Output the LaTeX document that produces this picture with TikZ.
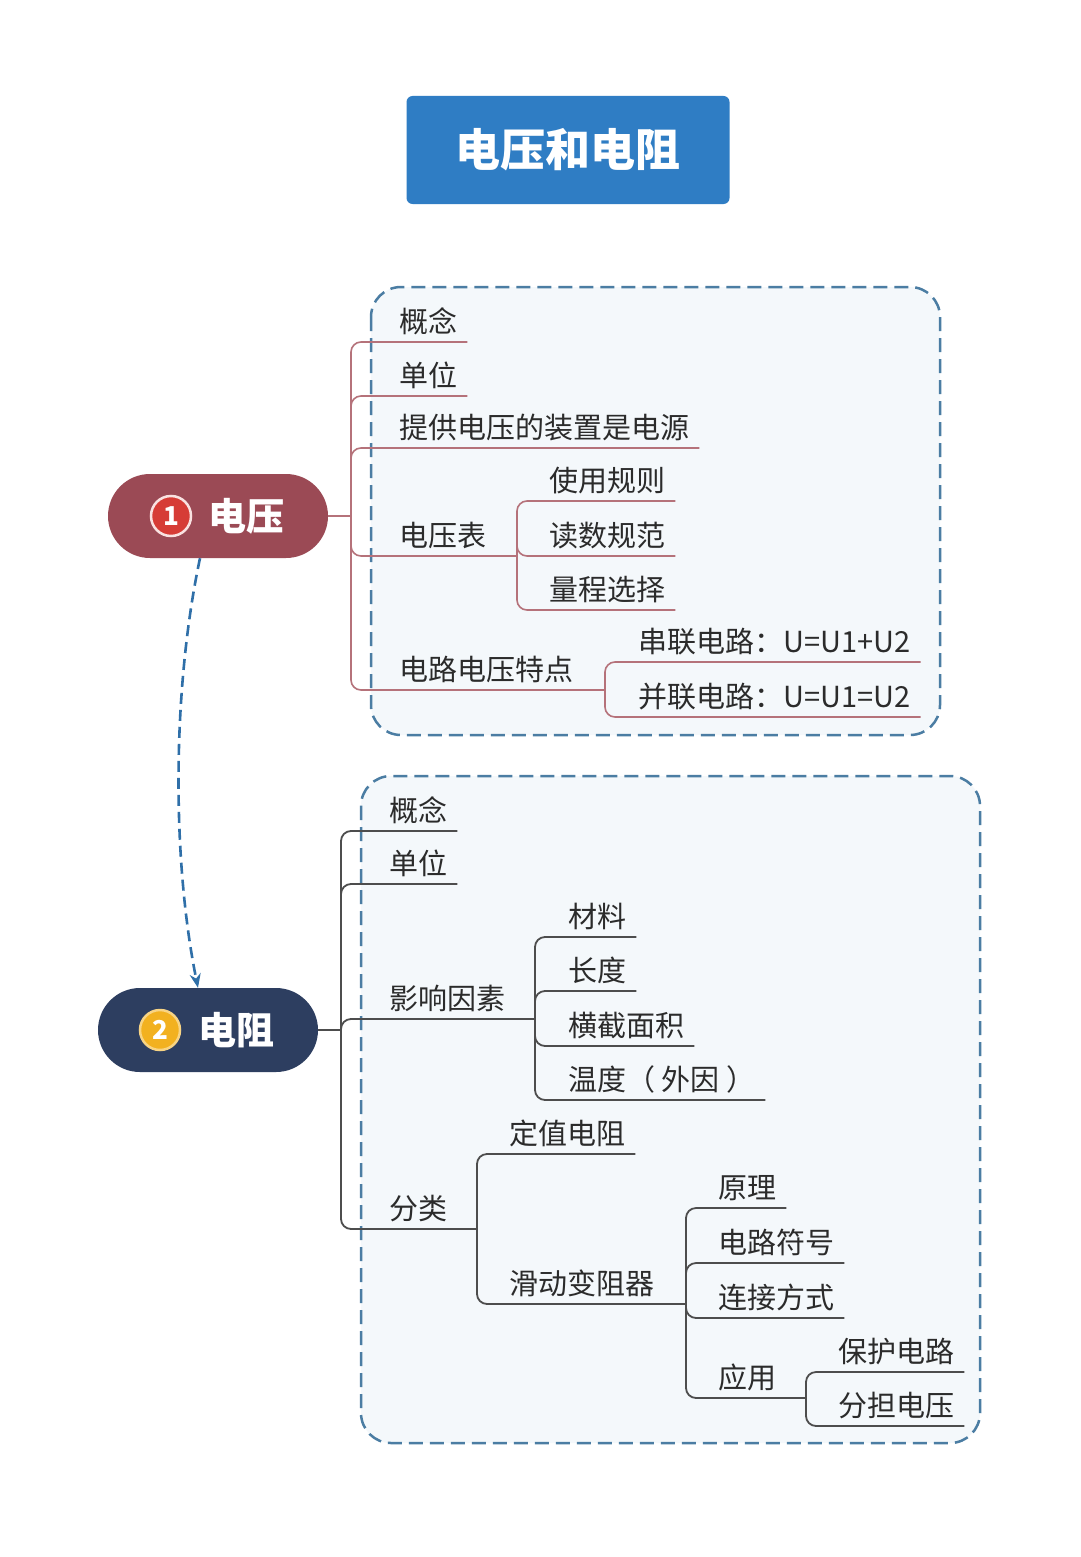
\documentclass[tikz,border=0pt]{standalone}
\usepackage{fontspec}
\setmainfont{Noto Sans CJK SC}
\usepackage{xcolor}
\usetikzlibrary{arrows.meta,positioning,calc}
\definecolor{titleblue}{HTML}{2F7DC4}
\definecolor{voltred}{HTML}{9B4A55}
\definecolor{resnavy}{HTML}{2D3E60}
\definecolor{badgered}{HTML}{D63C36}
\definecolor{badgegold}{HTML}{F2B120}
\definecolor{boxline}{HTML}{4B7DA3}
\definecolor{boxfill}{HTML}{F4F8FB}
\definecolor{flowblue}{HTML}{2F6FA8}
\definecolor{branchred}{HTML}{B5727A}
\definecolor{branchgray}{HTML}{4D4D4D}
\definecolor{txtgray}{HTML}{2B2B2B}
\begin{document}
\begin{tikzpicture}[x=1pt,y=-1pt,>=Stealth,
 leaf/.style={anchor=south west,inner xsep=10pt,inner ysep=2pt,text height=24pt,text depth=7.5pt,font=\fontsize{29}{32}\selectfont,text=txtgray},
 pill/.style={rounded corners=42pt,minimum width=220pt,minimum height=84pt,inner sep=0pt},
 badge/.style={circle,minimum size=40pt,inner sep=0pt,line width=2.5pt,text=white,font=\bfseries\fontsize{26}{26}\selectfont},
 pilltext/.style={text=white,font=\bfseries\fontsize{38}{40}\selectfont,inner sep=0pt},
 groupbox/.style={draw=boxline,fill=boxfill,line width=2.5pt,dash pattern=on 14pt off 7pt,rounded corners=30pt},
 vbranch/.style={draw=branchred,line width=1.6pt,rounded corners=10pt},
 rbranch/.style={draw=branchgray,line width=1.8pt,rounded corners=10pt}]
 \useasboundingbox[fill=white] (0,0) rectangle (1080,1557);
 % title
 \node[fill=titleblue,rounded corners=6pt,minimum width=323pt,minimum height=108pt,text=white,font=\bfseries\fontsize{45}{48}\selectfont] (title) at (568,150) {电压和电阻};
 % dashed group boxes
 \draw[groupbox] (371,287) rectangle (940,735);
 \draw[groupbox] (361,776) rectangle (980,1443);
 % main topics
 \node[pill,fill=voltred] (n1) at (218,516) {};
 \node[badge,fill=badgered,draw=white!85!badgered] (n1c) at (171,516) {1};
 \node[pilltext] (n1t) at (246,516) {电压};
 \node[pill,fill=resnavy] (n2) at (208,1030) {};
 \node[badge,fill=badgegold,draw=badgegold!55!white] (n2c) at (160,1030) {2};
 \node[pilltext] (n2t) at (236,1030) {电阻};
 \draw[flowblue,line width=2.6pt,dash pattern=on 11pt off 6pt,-{Stealth[length=14pt,width=11pt]}] ([xshift=-18pt]n1.south) .. controls (172,690) and (172,860) .. ([xshift=-10pt]n2.north);

 % voltage branch
 \coordinate (b1) at (351,516);
 \node[leaf] (v1) at (389,342) {概念};
 \node[leaf] (v2) at (389,396) {单位};
 \node[leaf] (v3) at (389,448) {提供电压的装置是电源};
 \node[leaf] (v4) at (389,556) {电压表};
 \coordinate (b2) at (517,556);
 \node[leaf] (v41) at (539,501) {使用规则};
 \node[leaf] (v42) at (539,556) {读数规范};
 \node[leaf] (v43) at (539,610) {量程选择};
 \node[leaf] (v5) at (389,690) {电路电压特点};
 \coordinate (b3) at (605,690);
 \node[leaf] (v51) at (628,662) {串联电路：U=U1+U2};
 \node[leaf] (v52) at (628,717) {并联电路：U=U1=U2};
 \draw[vbranch] (n1.east) -- (b1);
 \foreach \c in {v1,v2,v3}{\draw[vbranch] (b1) |- (\c.south east);}
 \draw[vbranch] (b1) |- (b2); \draw[vbranch] (b1) |- (b3);
 \foreach \c in {v41,v42,v43}{\draw[vbranch] (b2) |- (\c.south east);}
 \foreach \c in {v51,v52}{\draw[vbranch] (b3) |- (\c.south east);}

 % resistance branch
 \coordinate (b4) at (341,1030);
 \node[leaf] (r1) at (379,831) {概念};
 \node[leaf] (r2) at (379,884) {单位};
 \node[leaf] (r3) at (379,1019) {影响因素};
 \coordinate (b5) at (535,1019);
 \node[leaf] (r31) at (558,937) {材料};
 \node[leaf] (r32) at (558,991) {长度};
 \node[leaf] (r33) at (558,1046) {横截面积};
 \node[leaf] (r34) at (558,1100) {温度（ 外因 ）};
 \node[leaf] (r4) at (379,1229) {分类};
 \coordinate (b6) at (477,1229);
 \node[leaf] (r41) at (499,1154) {定值电阻};
 \node[leaf] (r42) at (499,1304) {滑动变阻器};
 \coordinate (b7) at (686,1304);
 \node[leaf] (r421) at (708,1208) {原理};
 \node[leaf] (r422) at (708,1263) {电路符号};
 \node[leaf] (r423) at (708,1318) {连接方式};
 \node[leaf] (r424) at (708,1398) {应用};
 \coordinate (b8) at (806,1398);
 \node[leaf] (r4241) at (828,1372) {保护电路};
 \node[leaf] (r4242) at (828,1426) {分担电压};
 \draw[rbranch] (n2.east) -- (b4);
 \foreach \c in {r1,r2}{\draw[rbranch] (b4) |- (\c.south east);}
 \draw[rbranch] (b4) |- (b5); \draw[rbranch] (b4) |- (b6);
 \foreach \c in {r31,r32,r33,r34}{\draw[rbranch] (b5) |- (\c.south east);}
 \draw[rbranch] (b6) |- (r41.south east); \draw[rbranch] (b6) |- (b7);
 \foreach \c in {r421,r422,r423}{\draw[rbranch] (b7) |- (\c.south east);}
 \draw[rbranch] (b7) |- (b8);
 \foreach \c in {r4241,r4242}{\draw[rbranch] (b8) |- (\c.south east);}
\end{tikzpicture}
\end{document}
